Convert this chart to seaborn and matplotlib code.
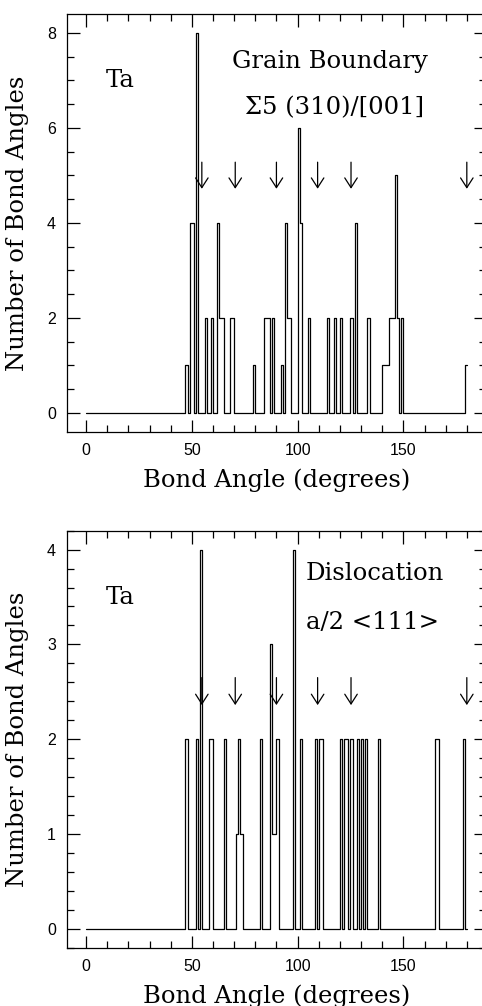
import numpy as np
import matplotlib
matplotlib.use("Agg")
import matplotlib.pyplot as plt
from matplotlib.ticker import MultipleLocator
import seaborn as sns

# Bond-angle histogram for the Sigma5 (310)/[001] grain boundary (1-degree bins, left edge)
gb_angles = [47, 49, 50, 52, 56, 59, 62, 63, 64, 68, 69, 79, 84, 85, 86, 88,
             92, 94, 95, 96, 100, 101, 105, 114, 117, 120, 125, 127, 133,
             140, 141, 142, 143, 144, 145, 146, 147, 149, 179]
gb_counts = [1, 4, 4, 8, 2, 2, 4, 2, 2, 2, 2, 1, 2, 2, 2, 2,
             1, 4, 2, 2, 6, 4, 2, 2, 2, 2, 2, 4, 2,
             1, 1, 1, 2, 2, 2, 5, 2, 2, 1]

# Bond-angle histogram around the a/2 <111> dislocation core
disl_angles = [47, 52, 54, 58, 59, 65, 71, 72, 73, 82, 87, 88, 89, 90,
               98, 101, 108, 110, 111, 120, 122, 123, 125, 128, 130, 132,
               138, 165, 166, 178]
disl_counts = [2, 2, 4, 2, 2, 2, 1, 2, 1, 2, 3, 1, 1, 2,
               4, 2, 2, 2, 2, 2, 2, 2, 2, 2, 2, 2,
               2, 2, 2, 2]

# Ideal bcc neighbour angles marked with arrows
bcc_angles = [54.74, 70.53, 90.0, 109.47, 125.26, 180.0]

x_ticks = [0, 50, 100, 150]

sns.set_style("ticks")
serif = ["DejaVu Serif"]
plt.rcParams["font.family"] = ["Liberation Sans", "DejaVu Sans"]
plt.rcParams.update({"text.color": "black", "axes.labelcolor": "black",
                     "xtick.color": "black", "ytick.color": "black",
                     "axes.edgecolor": "black"})

fig = plt.figure(figsize=(4.82, 10.06), dpi=100)
ax_top = fig.add_axes([0.139, 0.5706, 0.869, 0.4155])
ax_bot = fig.add_axes([0.139, 0.0579, 0.869, 0.4146])

panels = [
    (ax_top, gb_angles, gb_counts, (-0.4, 8.4), 2, 0.5, (5.28, 4.72),
     [("Ta", 16, 7.0, "center"), ("Grain Boundary", 69, 7.39, "left"),
      ("\u03a35 (310)/[001]", 75, 6.43, "left")]),
    (ax_bot, disl_angles, disl_counts, (-0.2, 4.2), 1, 0.2, (2.65, 2.36),
     [("Ta", 16, 3.49, "center"), ("Dislocation", 104, 3.75, "left"),
      ("a/2 <111>", 104, 3.23, "left")]),
]

for ax, angles, counts, ylim, major, minor, (tail, tip), labels in panels:
    sns.histplot(x=np.asarray(angles) + 0.5, weights=counts, binwidth=1,
                 binrange=(0, 180), element="step", fill=False,
                 color="black", linewidth=0.9, ax=ax)
    ax.set_xlim(-9, 189)
    ax.set_ylim(*ylim)
    ax.set_xticks(x_ticks)
    ax.xaxis.set_minor_locator(MultipleLocator(10))
    ax.yaxis.set_major_locator(MultipleLocator(major))
    ax.yaxis.set_minor_locator(MultipleLocator(minor))
    ax.tick_params(which="both", direction="in", top=True, right=True,
                   width=0.9, colors="black", labelsize=11.5, pad=8)
    ax.tick_params(which="major", length=9)
    ax.tick_params(which="minor", length=4.8)
    for sp in ax.spines.values():
        sp.set_visible(True)
        sp.set_linewidth(0.9)
        sp.set_color("black")

    for a in bcc_angles:
        ax.annotate("", xy=(a, tip), xytext=(a, tail),
                    arrowprops=dict(arrowstyle="->,head_length=0.7,head_width=0.45",
                                    lw=0.9, color="black", shrinkA=0, shrinkB=0,
                                    mutation_scale=10))

    for txt, x, y, ha in labels:
        ax.text(x, y, txt, ha=ha, va="center", fontsize=17.5, family=serif,
                color="black")

    ax.set_xlabel("Bond Angle (degrees)", fontsize=17.5, family=serif,
                  color="black")
    ax.set_ylabel("Number of Bond Angles", fontsize=17.5, family=serif,
                  color="black")
    ax.xaxis.set_label_coords(0.5, -0.088)
    ax.yaxis.set_label_coords(-0.09, 0.5)

fig.savefig("out.png", dpi=100)
